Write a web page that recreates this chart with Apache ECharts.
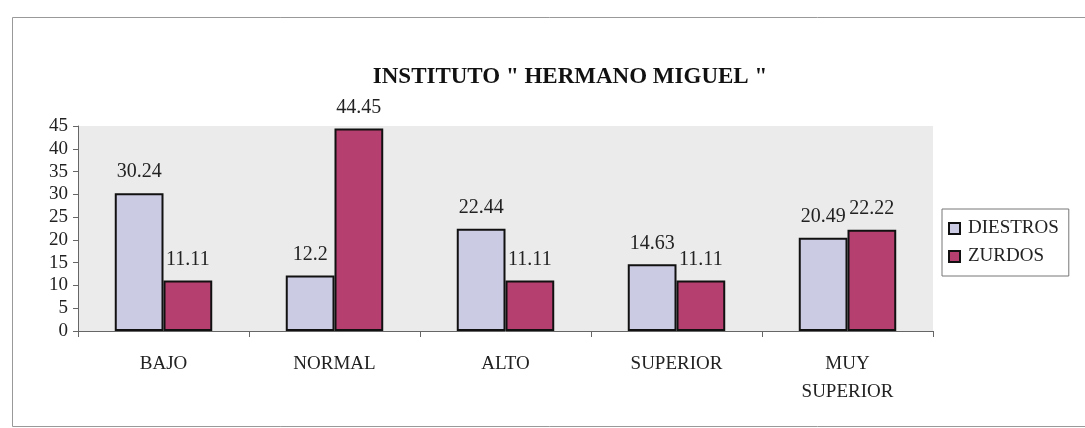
<!DOCTYPE html>
<html>
<head>
<meta charset="utf-8">
<script src="https://cdn.jsdelivr.net/npm/echarts@6/dist/echarts.min.js"></script>
<style>html,body{margin:0;padding:0;background:#fff;}#c{width:1085px;height:428px;}</style>
</head>
<body>
<div id="c"></div>
<script>
const categories = ['BAJO', 'NORMAL', 'ALTO', 'SUPERIOR', 'MUY\nSUPERIOR'];
const diestros = [30.24, 12.2, 22.44, 14.63, 20.49];
const zurdos = [11.11, 44.45, 11.11, 11.11, 22.22];
const seriesNames = ['DIESTROS', 'ZURDOS'];
const titleText = 'INSTITUTO " HERMANO MIGUEL "';

const font = 'Liberation Serif';
const chart = echarts.init(document.getElementById('c'));
const lbl = {
  show: true, position: 'top', distance: 11,
  fontFamily: font, fontSize: 20, color: '#222',
  formatter: p => String(p.value)
};
chart.setOption({
  animation: false,
  backgroundColor: '#fff',
  graphic: [{
    type: 'rect', left: 10, top: 15,
    shape: { width: 1090, height: 409 },
    style: { fill: 'none', stroke: '#999', lineWidth: 1 }
  }],
  title: {
    text: titleText, left: 565, top: 61, textAlign: 'center',
    textStyle: { fontFamily: font, fontSize: 23, fontWeight: 'bold', color: '#111' }
  },
  legend: {
    orient: 'vertical', left: 942, top: 209,
    data: seriesNames,
    icon: 'rect', itemWidth: 11, itemHeight: 11, itemGap: 9,
    borderColor: '#777', borderWidth: 1, padding: [10, 10, 10, 6],
    textStyle: { fontFamily: font, fontSize: 19, color: '#222', padding: [0, 0, 0, 3] }
  },
  grid: {
    left: 78, right: 152, top: 126, bottom: 97,
    show: true, backgroundColor: '#ebebeb', borderWidth: 0
  },
  xAxis: {
    type: 'category', data: categories,
    axisLine: { lineStyle: { color: '#666' } },
    axisTick: { show: true, length: 6, lineStyle: { color: '#666' } },
    axisLabel: { fontFamily: font, fontSize: 19, color: '#222', margin: 19, lineHeight: 28 }
  },
  yAxis: {
    type: 'value', min: 0, max: 45, interval: 5,
    splitLine: { show: false },
    axisLine: { show: true, lineStyle: { color: '#666' } },
    axisTick: { show: true, length: 5, lineStyle: { color: '#666' } },
    axisLabel: { fontFamily: font, fontSize: 19, color: '#222', margin: 10 }
  },
  series: [
    {
      name: seriesNames[0], type: 'bar', data: diestros,
      barGap: '0%', barCategoryGap: '43%',
      itemStyle: { color: '#cbcbe3', borderColor: '#111', borderWidth: 2 },
      label: lbl
    },
    {
      name: seriesNames[1], type: 'bar', data: zurdos,
      itemStyle: { color: '#b53f6e', borderColor: '#111', borderWidth: 2 },
      label: lbl
    }
  ]
});
</script>
</body>
</html>
